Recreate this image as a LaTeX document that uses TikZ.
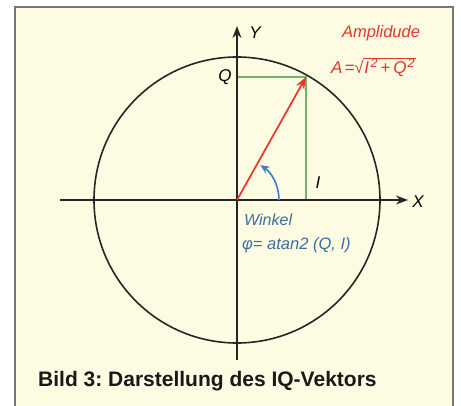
\documentclass[tikz,border=0pt]{standalone}
\usepackage{fontspec}
\setmainfont{Liberation Sans}
\usetikzlibrary{arrows.meta}
\definecolor{bgyel}{RGB}{253,252,226}
\definecolor{framec}{RGB}{120,120,108}
\definecolor{vred}{RGB}{232,52,42}
\definecolor{vgreen}{RGB}{110,180,110}
\definecolor{varc}{RGB}{60,124,200}
\definecolor{vblue}{RGB}{60,110,165}
\newcommand{\sqq}[1]{\raisebox{0.33em}{\fontsize{12.5}{12.5}\selectfont #1}}
\tikzset{
  axis/.style={line width=1.5pt, draw=black!85, -{Stealth[length=12pt,width=9pt]}},
  lbl/.style={font=\itshape\fontsize{17}{17}\selectfont, inner sep=0pt},
  helper/.style={draw=vgreen, line width=1.1pt},
}
\begin{document}
\frenchspacing
\begin{tikzpicture}[x=1pt,y=-1pt]
\useasboundingbox (0,0) rectangle (461,406);
\fill[white] (0,0) rectangle (461,406);
\fill[bgyel] (15,7) rectangle (453,406);
\draw[framec, line width=1.3pt] (15,410) -- (15,7) -- (453,7) -- (453,410);
% coordinates
\coordinate (O) at (237,200);
\coordinate (P) at (306,77);
\coordinate (Qp) at (237,77);
\coordinate (Ip) at (306,200);
\coordinate (xs) at (60,200);
\coordinate (xe) at (408,200);
\coordinate (ys) at (237,360);
\coordinate (ye) at (237,26);
% circle
\draw[black!85, line width=1.6pt] (O) circle[radius=143];
% helper lines
\draw[helper] (Qp) -- (P) -- (Ip);
% axes
\draw[axis] (xs) -- (xe);
\draw[axis] (ys) -- (ye);
% vector
\draw[vred, line width=1.7pt, -{Stealth[length=12pt,width=9pt]}] (O) -- (P);
% angle arc
\draw[varc, line width=1.6pt, -{Stealth[length=9pt,width=8pt]}] (279,200) arc[start angle=0, end angle=-56, radius=42];
% labels
\node[lbl] (X) at (418,202) {X};
\node[lbl] (Y) at (255,33) {Y};
\node[lbl] (Q) at (225,77) {Q};
\node[lbl] (I) at (318,183) {I};
\node[lbl, text=vred, font=\itshape\fontsize{16.5}{16.5}\selectfont] (amp) at (381,33) {Amplidude};
\node[lbl, text=vred, anchor=west, font=\itshape\fontsize{17}{17}\selectfont] (form) at (331,67) {A\kern2pt=\kern0pt√\kern-0.5pt$\overline{\hbox{\itshape\kern1pt I\kern1.5pt\sqq{2}\kern3pt+\kern3pt Q\kern1pt\sqq{2}\kern1pt}}$};
\node[lbl, text=vblue, anchor=west, font=\itshape\fontsize{16}{16}\selectfont] (wk) at (244,220) {Winkel};
\node[lbl, text=vblue, anchor=west, font=\itshape\fontsize{16.5}{16.5}\selectfont] (phi) at (242,245) {φ= atan2 (Q, I)};
\node[anchor=west, inner sep=0pt, font=\bfseries\fontsize{21}{21}\selectfont, text=black!90] (cap) at (38,381) {Bild 3: Darstellung des IQ-Vektors};
\end{tikzpicture}
\end{document}
